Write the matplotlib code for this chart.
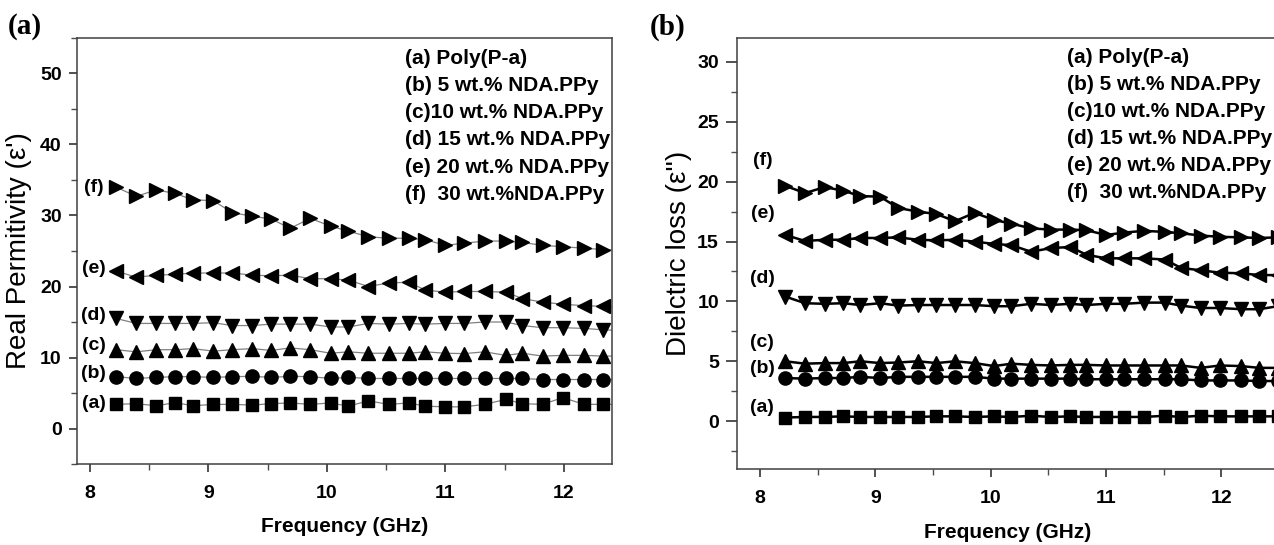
import numpy as np
import matplotlib.pyplot as plt
from matplotlib.ticker import MultipleLocator

plt.rcParams['font.family'] = ['Liberation Sans', 'DejaVu Sans']

# frequency points (GHz), shared by both panels
freq = [8.22, 8.39, 8.56, 8.72, 8.87, 9.04, 9.20, 9.37, 9.53, 9.69, 9.86, 10.03, 10.18,
        10.35, 10.52, 10.69, 10.83, 11.00, 11.16, 11.33, 11.51, 11.65, 11.82, 11.99,
        12.17, 12.33, 12.49]

tags = ["(a)", "(b)", "(c)", "(d)", "(e)", "(f)"]
legend_lines = ["(a) Poly(P-a)", "(b) 5 wt.% NDA.PPy", "(c)10 wt.% NDA.PPy",
                "(d) 15 wt.% NDA.PPy", "(e) 20 wt.% NDA.PPy", "(f)  30 wt.%NDA.PPy"]
markers = ["s", "o", "^", "v", "<", ">"]

# real permittivity
eps_a = [3.4, 3.5, 3.2, 3.65, 3.2, 3.4, 3.4, 3.3, 3.5, 3.6, 3.4, 3.6, 3.15, 3.9, 3.4,
         3.6, 3.15, 3.05, 3.05, 3.4, 4.1, 3.5, 3.4, 4.35, 3.4, 3.4, 3.4]
eps_b = [7.3, 7.05, 7.2, 7.3, 7.3, 7.2, 7.3, 7.35, 7.2, 7.35, 7.3, 7.05, 7.2, 7.05, 7.05,
         7.05, 7.05, 7.05, 7.05, 7.05, 7.05, 7.05, 6.9, 6.9, 6.9, 6.9, 6.9]
eps_c = [11.1, 10.8, 11.1, 11.1, 11.25, 10.9, 11.1, 11.25, 11.0, 11.35, 11.1, 10.6, 10.8,
         10.6, 10.6, 10.6, 10.8, 10.6, 10.55, 10.8, 10.3, 10.6, 10.2, 10.3, 10.3, 10.2, 10.2]
eps_d = [15.5, 14.8, 14.8, 14.8, 14.8, 14.9, 14.5, 14.5, 14.7, 14.7, 14.7, 14.3, 14.3,
         14.8, 14.7, 14.8, 14.7, 14.8, 14.8, 15.0, 15.0, 14.5, 14.2, 14.2, 14.1, 13.9, 13.8]
eps_e = [22.2, 21.3, 21.6, 21.7, 21.9, 21.9, 21.9, 21.6, 21.5, 21.6, 21.1, 21.1, 20.9,
         20.0, 20.5, 20.6, 19.5, 19.2, 19.3, 19.3, 19.2, 18.3, 17.8, 17.5, 17.3, 17.2, 17.0]
eps_f = [34.0, 32.7, 33.6, 33.1, 32.2, 32.1, 30.4, 29.9, 29.5, 28.2, 29.6, 28.5, 27.8,
         27.0, 26.8, 26.8, 26.6, 25.8, 26.1, 26.4, 26.4, 26.2, 25.8, 25.6, 25.4, 25.2, 25.1]

# dielectric loss
loss_a = [0.3, 0.35, 0.35, 0.4, 0.35, 0.35, 0.35, 0.35, 0.4, 0.4, 0.35, 0.4, 0.35, 0.45,
          0.35, 0.4, 0.35, 0.35, 0.35, 0.35, 0.45, 0.35, 0.45, 0.4, 0.4, 0.4, 0.4]
loss_b = [3.6, 3.55, 3.6, 3.6, 3.7, 3.6, 3.7, 3.7, 3.7, 3.7, 3.7, 3.55, 3.55, 3.55, 3.55,
          3.55, 3.5, 3.5, 3.5, 3.5, 3.5, 3.5, 3.4, 3.4, 3.4, 3.35, 3.35]
loss_c = [5.0, 4.8, 4.85, 4.85, 5.0, 4.85, 4.9, 5.0, 4.85, 5.0, 4.85, 4.6, 4.8, 4.7, 4.65,
          4.7, 4.7, 4.65, 4.65, 4.65, 4.65, 4.65, 4.45, 4.65, 4.6, 4.45, 4.45]
loss_d = [10.4, 9.85, 9.8, 9.85, 9.7, 9.85, 9.65, 9.7, 9.7, 9.7, 9.7, 9.6, 9.6, 9.8, 9.7,
          9.8, 9.7, 9.8, 9.8, 9.9, 9.9, 9.65, 9.45, 9.45, 9.35, 9.35, 9.6]
loss_e = [15.55, 15.05, 15.15, 15.15, 15.3, 15.3, 15.35, 15.15, 15.1, 15.15, 15.0, 14.8,
          14.7, 14.15, 14.45, 14.55, 13.9, 13.6, 13.6, 13.6, 13.5, 12.8, 12.6, 12.4, 12.35,
          12.2, 12.2]
loss_f = [19.65, 19.05, 19.55, 19.25, 18.8, 18.75, 17.8, 17.5, 17.3, 16.7, 17.4, 16.8, 16.5,
          16.1, 16.0, 16.0, 15.95, 15.55, 15.75, 15.9, 15.8, 15.7, 15.5, 15.4, 15.35, 15.3,
          15.35]

eps_all = [eps_a, eps_b, eps_c, eps_d, eps_e, eps_f]
loss_all = [loss_a, loss_b, loss_c, loss_d, loss_e, loss_f]

# label offsets above first point
eps_dy = [0.1, 0.4, 0.6, 0.4, 0.3, 0.0]
loss_dy = [0.8, 0.8, 1.6, 1.5, 1.8, 2.1]
msizes = [9, 9.5, 10.5, 10.5, 10.5, 10.5]

fig = plt.figure(figsize=(12.74, 5.45), dpi=100)
ax1 = fig.add_axes([0.0604, 0.1486, 0.4199, 0.7817])
ax2 = fig.add_axes([0.5785, 0.1394, 0.4254, 0.7908])


def style_axes(ax, ylim, ymaj, ymin, ylen):
    ax.set_ylim(ylim)
    ax.xaxis.set_major_locator(MultipleLocator(1))
    ax.xaxis.set_minor_locator(MultipleLocator(0.5))
    ax.yaxis.set_major_locator(MultipleLocator(ymaj))
    ax.yaxis.set_minor_locator(MultipleLocator(ymin))
    ax.tick_params(axis="x", which="major", direction="out", length=6, width=1.2,
                   pad=9, labelsize=14, color="0.2")
    ax.tick_params(axis="x", which="minor", direction="out", length=4, width=1.0, color="0.3")
    ax.tick_params(axis="y", which="major", direction="out", length=ylen, width=1.2,
                   pad=5, labelsize=14, color="0.2")
    ax.tick_params(axis="y", which="minor", direction="out", length=4, width=1.0, color="0.3")
    for lab in ax.get_xticklabels() + ax.get_yticklabels():
        lab.set_fontweight("bold")
    for sp in ax.spines.values():
        sp.set_linewidth(1.1)
        sp.set_color("0.25")


# panel (a): real permittivity
for i in range(6):
    ax1.plot(freq, eps_all[i], color="0.5", lw=0.9, marker=markers[i],
             markersize=msizes[i], markerfacecolor="black", markeredgecolor="black")
    ax1.text(freq[0] - 0.19, eps_all[i][0] + eps_dy[i], tags[i], ha="center",
             va="center", fontsize=14, fontweight="bold")
ax1.set_xlim(7.89, 12.405)
style_axes(ax1, (-5, 55), 10, 5, 6)
ax1.set_xlabel("Frequency (GHz)", fontsize=15, fontweight="bold")
ax1.xaxis.set_label_coords(0.5, -0.125)
ax1.set_ylabel("Real Permitivity (\u03b5')", fontsize=20)
ax1.yaxis.set_label_coords(-0.084, 0.5)
for i, line in enumerate(legend_lines):
    ax1.text(0.613, 0.953 - i * 0.064, line, transform=ax1.transAxes, ha="left",
             va="center", fontsize=15, fontweight="bold")

# panel (b): dielectric loss
for i in range(6):
    ax2.plot(freq, loss_all[i], color="black", lw=1.8, marker=markers[i],
             markersize=msizes[i], markerfacecolor="black", markeredgecolor="black")
    ax2.text(freq[0] - 0.2, loss_all[i][0] + loss_dy[i], tags[i], ha="center",
             va="center", fontsize=14, fontweight="bold")
ax2.set_xlim(7.8, 12.5)
style_axes(ax2, (-4, 32), 5, 2.5, 8)
ax2.set_xlabel("Frequency (GHz)", fontsize=15, fontweight="bold")
ax2.xaxis.set_label_coords(0.5, -0.125)
ax2.set_ylabel("Dielctric loss (\u03b5'')", fontsize=20)
ax2.yaxis.set_label_coords(-0.083, 0.5)
for i, line in enumerate(legend_lines):
    ax2.text(0.609, 0.956 - i * 0.063, line, transform=ax2.transAxes, ha="left",
             va="center", fontsize=15, fontweight="bold")

fig.text(8 / 1274, 1 - 27 / 545, "(a)", family="Liberation Serif", fontsize=21,
         fontweight="bold", ha="left", va="center")
fig.text(650 / 1274, 1 - 27 / 545, "(b)", family="Liberation Serif", fontsize=21,
         fontweight="bold", ha="left", va="center")

fig.savefig("out.png", dpi=100)
